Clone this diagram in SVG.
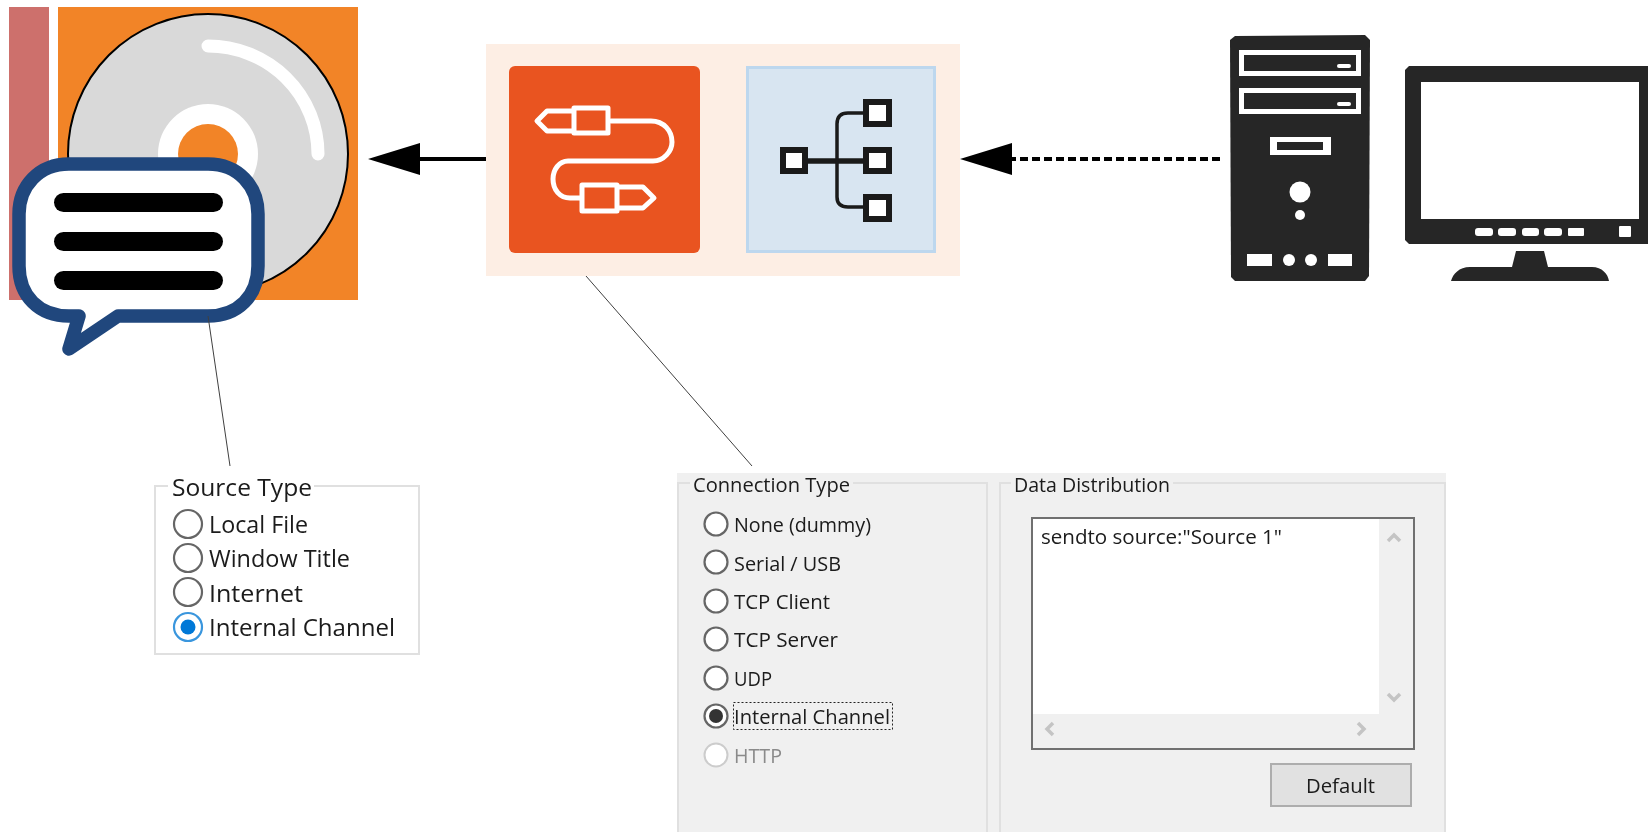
<svg xmlns="http://www.w3.org/2000/svg" width="1648" height="832" viewBox="0 0 1648 832">
<style>
.t{font-family:"Open Sans","Noto Sans","Liberation Sans",sans-serif;fill:#1a1a1a;filter:url(#soft)}
.s{font-size:23px}
.c{font-size:20.5px}
.r{fill:#fff;stroke:#666;stroke-width:2.2}
.box{fill:none;stroke:#e0e0e0;stroke-width:2}
.pl{fill:none;stroke:#fff;stroke-width:5;stroke-linejoin:round;stroke-linecap:round}
.sq{fill:#fff;stroke:#1a1a1a;stroke-width:6}
.ink{fill:#262626}
.hole{fill:#fff}
.bar{fill:#000}
.sb{fill:none;stroke:#c4c4c4;stroke-width:3.5}
</style>
<defs>
<filter id="soft" x="-5%" y="-20%" width="110%" height="140%"><feGaussianBlur stdDeviation="0.35"/></filter>
<marker id="head" markerUnits="userSpaceOnUse" markerWidth="52" markerHeight="32" refX="4" refY="16" orient="auto">
<path d="M52,16 L0,0 L0,32 Z" fill="#000"/>
</marker>
</defs>
<g id="source">
<rect x="9" y="7" width="40" height="293" fill="#cd706c"/>
<rect x="58" y="7" width="300" height="293" fill="#f28427"/>
<circle cx="208" cy="154" r="140" fill="#d9d9d9" stroke="#000" stroke-width="2"/>
<circle cx="208" cy="154" r="50" fill="#fff"/>
<circle cx="208" cy="154" r="30" fill="#f28427"/>
<path d="M208,46 A110,108 0 0 1 318,154" fill="none" stroke="#fff" stroke-width="13" stroke-linecap="round"/>
<path d="M69,164 H208 C238,164 258,186 258,214 V266 C258,296 238,316 208,316 H118 L69,349 L79,316 H69 C39,316 19,296 19,266 V214 C19,186 39,164 69,164 Z" fill="#fff" stroke="#20477d" stroke-width="13.5" stroke-linejoin="round"/>
<rect x="54" y="193" width="169" height="19" rx="9.5" class="bar"/>
<rect x="54" y="232" width="169" height="19" rx="9.5" class="bar"/>
<rect x="54" y="271" width="169" height="19" rx="9.5" class="bar"/>
</g>
<g id="channel">
<rect x="486" y="44" width="474" height="232" fill="#fdeee4"/>
<rect x="509" y="66" width="191" height="187" rx="6" fill="#e95420"/>
<path class="pl" d="M572,111 H547 L537,121 L547,131 H572"/>
<rect class="pl" x="574" y="108" width="34" height="25" stroke-linejoin="miter"/>
<path class="pl" d="M611,121 H651 C664,121 672,131 672,142 C672,151 664,161 653,161 H568 C559,161 553,170 553,179 C553,190 560,198 570,198 H581"/>
<rect class="pl" x="582" y="185" width="35" height="26"/>
<path class="pl" d="M619,187 H643 L654,198 L643,208 H619"/>
<rect x="747.5" y="67.500" width="187" height="184" fill="#d8e5f1" stroke="#bdd7ee" stroke-width="3"/>
<path d="M805,161 H866" stroke="#1a1a1a" stroke-width="5.500" fill="none"/>
<path d="M866,113 H848 Q837,113 837,124 V197 Q837,207 848,207 H866" stroke="#1a1a1a" stroke-width="3.500" fill="none"/>
<rect class="sq" x="783" y="150" width="22" height="21"/>
<rect class="sq" x="866" y="102" width="23" height="22"/>
<rect class="sq" x="866" y="150" width="23" height="21"/>
<rect class="sq" x="866" y="197" width="23" height="22"/>
</g>
<g id="computer">
<path class="ink" d="M1235,36 L1365,35 L1370,40 L1369,276 L1365,281 L1235,281 L1231,277 L1230,40 Z"/>
<rect x="1239" y="50" width="122" height="26" class="hole"/>
<rect x="1244" y="55" width="112" height="16" class="ink"/>
<rect x="1337" y="64" width="14" height="4" rx="2" class="hole"/>
<rect x="1239" y="88" width="122" height="26" class="hole"/>
<rect x="1244" y="93" width="112" height="16" class="ink"/>
<rect x="1337" y="102" width="14" height="4" rx="2" class="hole"/>
<rect x="1270" y="137" width="61" height="18" class="hole"/>
<rect x="1277" y="142" width="46" height="8" class="ink"/>
<circle cx="1300" cy="192" r="10.500" class="hole"/>
<circle cx="1300" cy="215" r="5" class="hole"/>
<rect x="1247" y="254" width="25" height="12" class="hole"/>
<circle cx="1289" cy="260" r="6" class="hole"/>
<circle cx="1311" cy="260" r="6" class="hole"/>
<rect x="1328" y="254" width="24" height="12" class="hole"/>
</g>
<g id="monitor">
<path class="ink" d="M1409,66 H1648 V244 H1409 L1405,240 V70 Z"/>
<rect x="1421" y="82" width="218" height="137" class="hole"/>
<rect x="1475" y="228" width="18" height="8" rx="3" class="hole"/>
<rect x="1498" y="228" width="18" height="8" rx="3" class="hole"/>
<rect x="1522" y="228" width="17" height="8" rx="3" class="hole"/>
<rect x="1544" y="228" width="18" height="8" rx="3" class="hole"/>
<rect x="1568" y="228" width="16" height="8" rx="1" class="hole"/>
<rect x="1619" y="226" width="12" height="11" rx="1" class="hole"/>
<path class="ink" d="M1516,251 H1544 L1548,267 H1592 C1602,267 1608,274 1609,281 H1451 C1453,274 1459,267 1470,267 H1512 Z"/>
</g>
<g id="connectors">
<path d="M486,159 H416" stroke="#000" stroke-width="4" fill="none" marker-end="url(#head)"/>
<path d="M1220,159 H1008" stroke="#000" stroke-width="4" stroke-dasharray="8 4" fill="none" marker-end="url(#head)"/>
<path d="M208,316 L230,466" stroke="#404040" stroke-width="1" fill="none"/>
<path d="M586,276 L752,466" stroke="#404040" stroke-width="1" fill="none"/>
</g>
<g id="source-type">
<rect class="box" x="155" y="486" width="264" height="168" fill="#fff"/>
<rect x="168" y="480" width="146" height="12" fill="#fff"/>
<text class="t s" x="172" y="496" textLength="140" lengthAdjust="spacingAndGlyphs">Source Type</text>
<circle class="r" cx="188" cy="524" r="14"/>
<circle class="r" cx="188" cy="558" r="14"/>
<circle class="r" cx="188" cy="592" r="14"/>
<circle cx="188" cy="627" r="14" fill="#fff" stroke="#3a96dd" stroke-width="2.200"/>
<circle cx="188" cy="627" r="7.500" fill="#0078d7"/>
<text class="t s" x="209" y="533" textLength="99" lengthAdjust="spacingAndGlyphs">Local File</text>
<text class="t s" x="209" y="567" textLength="141" lengthAdjust="spacingAndGlyphs">Window Title</text>
<text class="t s" x="209" y="602" textLength="94" lengthAdjust="spacingAndGlyphs">Internet</text>
<text class="t s" x="209" y="636" textLength="186" lengthAdjust="spacingAndGlyphs">Internal Channel</text>
</g>
<g id="connection-panel">
<rect x="677" y="473" width="769" height="359" fill="#f0f0f0"/>
<path class="box" d="M678,832 V483 H987 V832"/>
<path class="box" d="M1000,832 V483 H1445 V832"/>
<rect x="690" y="478" width="163" height="10" fill="#f0f0f0"/>
<rect x="1011" y="478" width="162" height="10" fill="#f0f0f0"/>
<text class="t c" x="693" y="492" textLength="157" lengthAdjust="spacingAndGlyphs">Connection Type</text>
<text class="t c" x="1014" y="492" textLength="156" lengthAdjust="spacingAndGlyphs">Data Distribution</text>
</g>
<g id="connection-type">
<circle class="r" cx="716" cy="524" r="11.500"/>
<circle class="r" cx="716" cy="562" r="11.500"/>
<circle class="r" cx="716" cy="601" r="11.500"/>
<circle class="r" cx="716" cy="639" r="11.500"/>
<circle class="r" cx="716" cy="678" r="11.500"/>
<circle class="r" cx="716" cy="716" r="11.500"/>
<circle cx="716" cy="716" r="7" fill="#333"/>
<circle cx="716" cy="755" r="11.500" fill="#fff" stroke="#ccc" stroke-width="2"/>
<text class="t c" x="734" y="532" textLength="137" lengthAdjust="spacingAndGlyphs">None (dummy)</text>
<text class="t c" x="734" y="571" textLength="107" lengthAdjust="spacingAndGlyphs">Serial / USB</text>
<text class="t c" x="734" y="609" textLength="96" lengthAdjust="spacingAndGlyphs">TCP Client</text>
<text class="t c" x="734" y="647" textLength="104" lengthAdjust="spacingAndGlyphs">TCP Server</text>
<text class="t c" x="734" y="686" textLength="38" lengthAdjust="spacingAndGlyphs">UDP</text>
<text class="t c" x="734" y="724" textLength="156" lengthAdjust="spacingAndGlyphs">Internal Channel</text>
<text class="t c" x="734" y="763" textLength="48" lengthAdjust="spacingAndGlyphs" style="fill:#8a8a8a">HTTP</text>
<rect x="733.500" y="702.500" width="159" height="27" fill="none" stroke="#222" stroke-width="1" stroke-dasharray="2 2"/>
</g>
<g id="data-distribution">
<rect x="1032" y="518" width="382" height="231" fill="#f0f0f0" stroke="#707070" stroke-width="2"/>
<rect x="1033" y="519" width="346" height="195" fill="#fff"/>
<text class="t c" x="1041" y="544" textLength="241" lengthAdjust="spacingAndGlyphs">sendto source:"Source 1"</text>
<path class="sb" d="M1388,541 L1394,535 L1400,541"/>
<path class="sb" d="M1388,694 L1394,700 L1400,694"/>
<path class="sb" d="M1053,723 L1047,729 L1053,735"/>
<path class="sb" d="M1358,723 L1364,729 L1358,735"/>
<rect x="1271" y="764" width="140" height="42" fill="#e1e1e1" stroke="#adadad" stroke-width="2"/>
<text class="t c" x="1306" y="793" textLength="69" lengthAdjust="spacingAndGlyphs">Default</text>
</g>
</svg>
